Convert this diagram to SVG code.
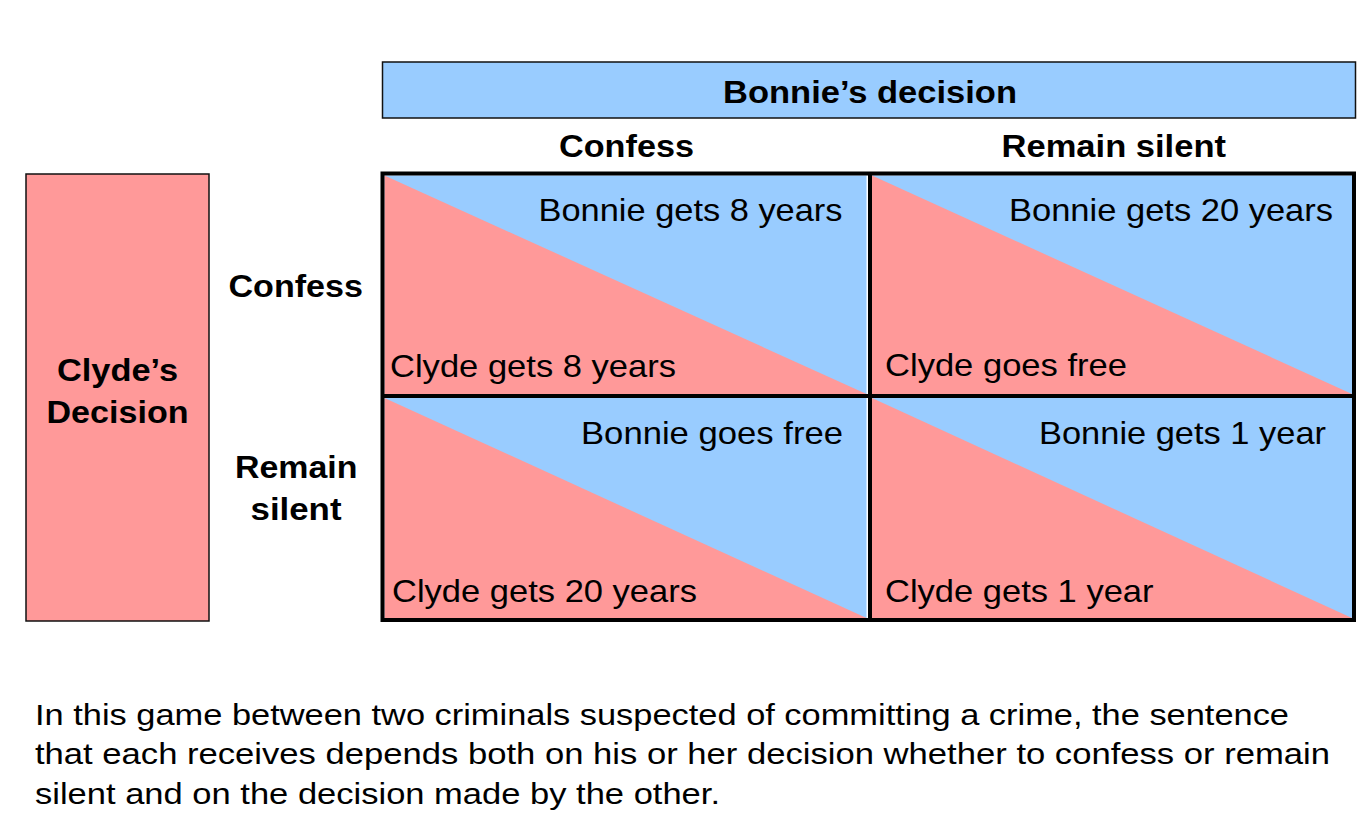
<svg xmlns="http://www.w3.org/2000/svg" width="1364" height="820" viewBox="0 0 1364 820">
<style>
.blue{fill:#99CCFF}
.pink{fill:#FF9999}
.b{font-family:"Liberation Sans",Arial,sans-serif;font-weight:bold;font-size:32px;fill:#000}
.r{font-family:"Liberation Sans",Arial,sans-serif;font-size:32px;fill:#000}
.c{font-family:"Liberation Sans",Arial,sans-serif;font-size:30px;fill:#000}
.grid{stroke:#000;stroke-width:4;fill:none}
</style>
<rect x="0" y="0" width="1364" height="820" fill="#fff"/>
<g id="bonnie-header">
<rect x="382.5" y="62" width="973" height="56" class="blue" stroke="#111" stroke-width="1.5"/>
<text class="b" x="723" y="103" textLength="294" lengthAdjust="spacingAndGlyphs">Bonnie’s decision</text>
</g>
<g id="col-confess"><text class="b" x="559" y="157" textLength="135" lengthAdjust="spacingAndGlyphs">Confess</text></g>
<g id="col-silent"><text class="b" x="1001.5" y="157" textLength="224.5" lengthAdjust="spacingAndGlyphs">Remain silent</text></g>
<g id="clyde-header">
<rect x="26" y="174" width="183" height="447" class="pink" stroke="#111" stroke-width="1.5"/>
<text class="b" x="57" y="381" textLength="121" lengthAdjust="spacingAndGlyphs">Clyde’s</text>
<text class="b" x="46.5" y="422.5" textLength="142" lengthAdjust="spacingAndGlyphs">Decision</text>
</g>
<g id="row-confess"><text class="b" x="228.5" y="297" textLength="134.5" lengthAdjust="spacingAndGlyphs">Confess</text></g>
<g id="row-silent">
<text class="b" x="235" y="477.5" textLength="122.5" lengthAdjust="spacingAndGlyphs">Remain</text>
<text class="b" x="250.5" y="519.5" textLength="91" lengthAdjust="spacingAndGlyphs">silent</text>
</g>
<g id="cell-cc">
<rect x="384.5" y="175.5" width="482" height="218.5" class="blue"/>
<polygon points="384.5,175.5 384.5,394 866.5,394" class="pink"/>
<text class="r" x="538.5" y="221" textLength="304" lengthAdjust="spacingAndGlyphs">Bonnie gets 8 years</text>
<text class="r" x="390" y="376.5" textLength="286" lengthAdjust="spacingAndGlyphs">Clyde gets 8 years</text>
</g>
<g id="cell-cs">
<rect x="872" y="175.5" width="480" height="218.5" class="blue"/>
<polygon points="872,175.5 872,394 1352,394" class="pink"/>
<text class="r" x="1009" y="221" textLength="324" lengthAdjust="spacingAndGlyphs">Bonnie gets 20 years</text>
<text class="r" x="885" y="376" textLength="242" lengthAdjust="spacingAndGlyphs">Clyde goes free</text>
</g>
<g id="cell-sc">
<rect x="384.5" y="398" width="482" height="220" class="blue"/>
<polygon points="384.5,398 384.5,618 866.5,618" class="pink"/>
<text class="r" x="581" y="443.5" textLength="262" lengthAdjust="spacingAndGlyphs">Bonnie goes free</text>
<text class="r" x="392" y="602" textLength="305" lengthAdjust="spacingAndGlyphs">Clyde gets 20 years</text>
</g>
<g id="cell-ss">
<rect x="872" y="398" width="480" height="220" class="blue"/>
<polygon points="872,398 872,618 1352,618" class="pink"/>
<text class="r" x="1039" y="443.5" textLength="287" lengthAdjust="spacingAndGlyphs">Bonnie gets 1 year</text>
<text class="r" x="885" y="601.5" textLength="268.5" lengthAdjust="spacingAndGlyphs">Clyde gets 1 year</text>
</g>
<g id="grid-lines">
<rect x="382.5" y="173.5" width="971.5" height="446.5" class="grid"/>
<line x1="870" y1="173.5" x2="870" y2="620" class="grid"/>
<line x1="382.5" y1="396" x2="1354" y2="396" class="grid"/>
</g>
<g id="caption">
<text class="c" x="35" y="724.5" textLength="1254" lengthAdjust="spacingAndGlyphs">In this game between two criminals suspected of committing a crime, the sentence</text>
<text class="c" x="35" y="764" textLength="1295" lengthAdjust="spacingAndGlyphs">that each receives depends both on his or her decision whether to confess or remain</text>
<text class="c" x="35" y="803.5" textLength="685" lengthAdjust="spacingAndGlyphs">silent and on the decision made by the other.</text>
</g>
</svg>
